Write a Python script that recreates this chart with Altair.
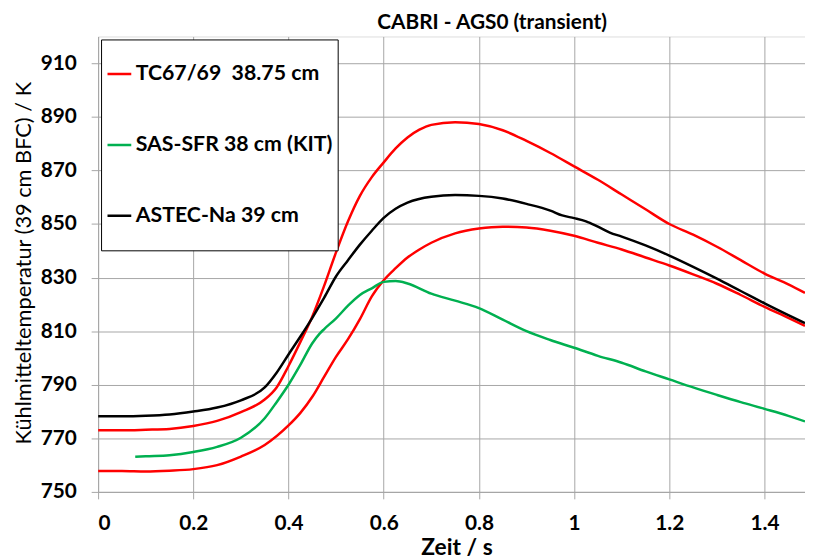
import altair as alt
import pandas as pd

# ---- data ----
tc67_x = [0, 0.05, 0.1, 0.15, 0.2, 0.25, 0.3, 0.35, 0.375, 0.4, 0.425, 0.45, 0.475, 0.5, 0.525,
          0.55, 0.575, 0.6, 0.625, 0.65, 0.675, 0.7, 0.75, 0.8, 0.85, 0.9, 0.95, 1.0, 1.05, 1.1,
          1.15, 1.2, 1.25, 1.3, 1.35, 1.4, 1.45, 1.485]
tc67_y = [773, 773, 773.2, 773.5, 774.6, 776.5, 779.8, 784.5, 789, 797, 806, 815.5, 827, 839.5,
          851, 860.5, 867.5, 873, 878.2, 882.3, 885.2, 887, 888, 887.3, 885, 881, 876.5, 871.5,
          866.5, 861, 855.5, 850, 846, 841.5, 836.5, 831.5, 827.5, 824.3]

tc69_x = [0, 0.05, 0.1, 0.15, 0.2, 0.25, 0.3, 0.35, 0.4, 0.425, 0.45, 0.475, 0.5, 0.525, 0.55,
          0.575, 0.6, 0.625, 0.65, 0.675, 0.7, 0.75, 0.8, 0.85, 0.9, 0.95, 1.0, 1.05, 1.1, 1.15,
          1.2, 1.25, 1.3, 1.35, 1.4, 1.45, 1.485]
tc69_y = [757.8, 757.8, 757.6, 757.9, 758.5, 760, 763.2, 767.5, 774.8, 779.5, 785.5, 793, 800.5,
          807, 814.5, 823, 829, 833.5, 837.5, 840.5, 843, 846.5, 848.3, 849, 848.7, 847.5, 845.6,
          843, 840.5, 837.5, 834.5, 831.2, 827.7, 823.5, 819.1, 815, 812]

sas_x = [0.078, 0.1, 0.15, 0.2, 0.25, 0.3, 0.35, 0.375, 0.4, 0.425, 0.45, 0.465, 0.475, 0.5,
         0.525, 0.55, 0.575, 0.6, 0.625, 0.65, 0.7, 0.75, 0.8, 0.85, 0.9, 0.95, 1.0, 1.05, 1.1,
         1.15, 1.2, 1.25, 1.3, 1.35, 1.4, 1.45, 1.485]
sas_y = [763.1, 763.3, 763.7, 764.9, 766.8, 770.2, 777.5, 783.5, 790, 797.5, 805.5, 809, 810.8,
         814.8, 819.5, 823.5, 826, 828.4, 828.7, 827.8, 824, 821.4, 818.6, 814.3, 810, 806.7,
         803.8, 800.8, 798.2, 795, 792, 789, 786.2, 783.5, 781, 778.4, 776.3]

astec_x = [0, 0.05, 0.1, 0.15, 0.2, 0.25, 0.3, 0.35, 0.375, 0.4, 0.425, 0.45, 0.475, 0.5, 0.525,
           0.55, 0.575, 0.6, 0.625, 0.65, 0.7, 0.75, 0.8, 0.85, 0.9, 0.95, 0.975, 1.0, 1.025,
           1.05, 1.075, 1.1, 1.15, 1.2, 1.25, 1.3, 1.35, 1.4, 1.45, 1.485]
astec_y = [778.2, 778.2, 778.4, 778.9, 780, 781.5, 784.2, 789, 794.5, 801.3, 808, 815, 822.5,
           830.5, 836.5, 842.3, 847.5, 852.3, 855.7, 858, 860.2, 860.8, 860.5, 859.5, 857.5, 855,
           853.2, 852.2, 851, 849, 846.8, 845.3, 842, 838.2, 834, 829.6, 825, 820.4, 816, 813]

legend_labels = ["TC67/69\u00a0\u00a038.75 cm", "SAS-SFR 38 cm (KIT)", "ASTEC-Na 39 cm"]
legend_colors = ["#FF0000", "#00B050", "#000000"]

x_ticks = [0, 0.2, 0.4, 0.6, 0.8, 1.0, 1.2, 1.4]
y_ticks = [750, 770, 790, 810, 830, 850, 870, 890, 910]

rows = []
for curve, label, xs, ys in [
    ("TC67", legend_labels[0], tc67_x, tc67_y),
    ("TC69", legend_labels[0], tc69_x, tc69_y),
    ("SAS", legend_labels[1], sas_x, sas_y),
    ("ASTEC", legend_labels[2], astec_x, astec_y),
]:
    for i, (a, b) in enumerate(zip(xs, ys)):
        rows.append({"t": a, "T": b, "series": label, "curve": curve, "i": i})
df = pd.DataFrame(rows)

FONT = "Lato"
GRID = "#A6A6A6"

axis_common = dict(
    labelFont=FONT, labelFontSize=21, labelFontWeight="bold", labelColor="#000000",
    titleFont=FONT, titleColor="#000000",
    gridColor=GRID, gridWidth=1, gridOpacity=1,
    domainColor=GRID, domainWidth=1,
    tickColor=GRID, tickSize=7, tickWidth=1,
)

chart = alt.Chart(df).mark_line(strokeWidth=2.5, clip=True, interpolate="monotone").encode(
    x=alt.X("t:Q",
            scale=alt.Scale(domain=[0, 1.485], nice=False, zero=False),
            axis=alt.Axis(values=x_ticks, format="~g", title="Zeit / s", labelPadding=14,
                          titleX=362, titleY=63, titleBaseline="alphabetic",
                          titleFontWeight="bold", titleFontSize=23, **axis_common)),
    y=alt.Y("T:Q",
            scale=alt.Scale(domain=[750, 920], nice=False, zero=False),
            axis=alt.Axis(values=y_ticks, title="Kühlmitteltemperatur (39 cm BFC) / K",
                          labelPadding=15,
                          titleX=-68, titleY=228.5, titleBaseline="alphabetic", titleAngle=-90,
                          titleAlign="center", titleFontWeight="normal", titleFontSize=22,
                          **axis_common)),
    color=alt.Color("series:N",
                    scale=alt.Scale(domain=legend_labels, range=legend_colors),
                    legend=alt.Legend(title=None, orient="none", legendX=3, legendY=3,
                                      padding=5, clipHeight=60, rowPadding=11.5,
                                      symbolType="stroke", symbolSize=576,
                                      symbolStrokeWidth=2.5, labelOffset=3,
                                      labelFont=FONT, labelFontSize=21.5, labelFontWeight="bold",
                                      labelColor="#000000", labelLimit=400,
                                      strokeColor="#000000", fillColor="#FFFFFF")),
    detail="curve:N",
    order="i:Q",
).properties(
    width=714,
    height=460,
    title=alt.TitleParams("CABRI - AGS0 (transient)", font=FONT, fontSize=21,
                          fontWeight="bold", color="#000000", anchor="middle",
                          dx=41, offset=4),
    autosize=alt.AutoSizeParams(type="none"),
    padding={"left": 91, "top": 26, "right": 0, "bottom": 65},
).configure_view(
    stroke=GRID, strokeWidth=1
).configure(background="#FFFFFF")

chart.save("out.html", embed_options={"renderer": "svg", "actions": False})
